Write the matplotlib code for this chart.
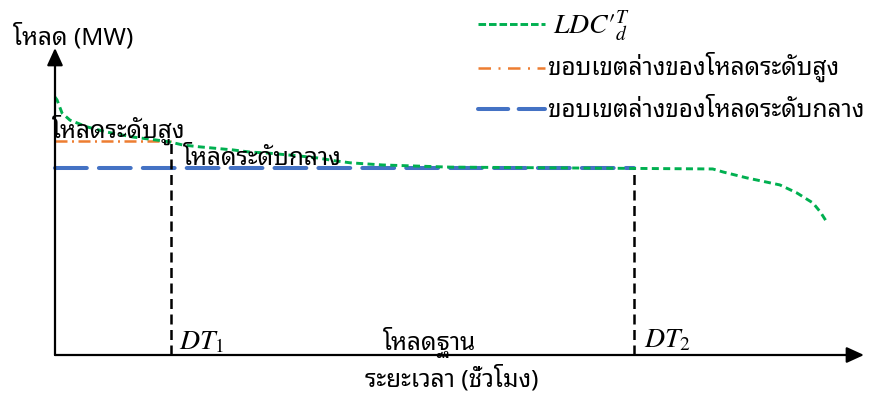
import matplotlib
matplotlib.use("Agg")
import matplotlib.pyplot as plt

plt.rcParams['mathtext.fontset'] = 'stix'
THAI = ['Noto Sans Thai Looped', 'Noto Sans', 'DejaVu Sans']

# Load duration curve: time (% of period) and load (% of scale)
ldc_time = [0.0, 0.25, 0.87, 1.85, 3.96, 6.43, 9.64, 12.6, 14.2, 15.8, 17.9,
            22.0, 24.1, 26.2, 30.3, 32.4, 34.5, 36.5, 40.5, 48.8, 64.9, 81.3,
            82.6, 85.5, 89.6, 91.7, 93.7, 94.6, 95.4]
ldc_load = [84.0, 83.1, 78.8, 76.5, 74.3, 72.6, 71.0, 70.0, 69.4, 68.4, 67.8,
            66.8, 66.1, 65.8, 64.8, 64.2, 63.3, 62.6, 61.9, 61.2, 60.9, 60.6,
            59.6, 57.7, 55.4, 52.8, 49.5, 46.6, 43.3]

peak_lower = 69.7     # lower bound of peak load
mid_lower = 60.9      # lower bound of intermediate load
dt1 = 14.4            # DT_1
dt2 = 71.6            # DT_2

GREEN = '#00B050'
ORANGE = '#ED7D31'
BLUE = '#4472C4'

legend_labels = [r'$LDC{\prime}^{T}_{d}$',
                 'ขอบเขตล่างของโหลดระดับสูง',
                 'ขอบเขตล่างของโหลดระดับกลาง']

fig = plt.figure(figsize=(8.73, 3.94), dpi=100)
W, H = 873, 394
x0, y0, x1, y1 = 55, 355, 864, 48
ax = fig.add_axes([x0 / W, 1 - y0 / H, (x1 - x0) / W, (y0 - y1) / H])
ax.set_xlim(0, 100)
ax.set_ylim(0, 100)
ax.axis('off')

# axes with arrow heads
arrow = dict(arrowstyle='-|>,head_length=10.5,head_width=4.8', mutation_scale=1,
             color='black', lw=1.6, shrinkA=0, shrinkB=0)
ax.annotate('', xy=(0, 100), xytext=(0, 0), arrowprops=arrow, annotation_clip=False)
ax.annotate('', xy=(100, 0), xytext=(0, 0), arrowprops=arrow, annotation_clip=False)

# boundaries
ax.plot([0, dt2], [mid_lower, mid_lower], color=BLUE, lw=2.9,
        dashes=(7.9, 3.0), solid_capstyle='round', dash_capstyle='round', clip_on=False)
ax.plot([0, dt1], [peak_lower, peak_lower], color=ORANGE, lw=1.8,
        dashes=(4.8, 1.8, 0.8, 1.8), clip_on=False)
ax.plot([dt1, dt1], [0, peak_lower], color='black', lw=1.8, dashes=(4.0, 2.2), clip_on=False)
ax.plot([dt2, dt2], [0, mid_lower], color='black', lw=1.8, dashes=(4.0, 2.2), clip_on=False)

# load duration curve
ax.plot(ldc_time, ldc_load, color=GREEN, lw=2.1, dashes=(2.4, 1.5), clip_on=False)

# overlay in pixel units for labels and legend
ov = fig.add_axes([0, 0, 1, 1])
ov.set_xlim(0, W)
ov.set_ylim(H, 0)
ov.axis('off')
ov.patch.set_alpha(0)

fs = 17.5
tk = dict(family=THAI, fontsize=fs, fontweight='light', va='baseline', ha='left')
mk = dict(fontsize=20, va='baseline', ha='left')
ov.text(13, 44, 'โหลด (MW)', **tk)
ov.text(52, 138, 'โหลดระดับสูง', **tk)
ov.text(183, 165, 'โหลดระดับกลาง', **tk)
ov.text(383, 350, 'โหลดฐาน', **tk)
ov.text(365, 386, 'ระยะเวลา (ชั่วโมง)', **tk)
ov.text(179, 349, r'$DT_1$', **mk)
ov.text(644, 347, r'$DT_2$', **mk)

# legend
ov.plot([478, 545], [24, 24], color=GREEN, lw=2.1, dashes=(2.6, 1.0))
ov.plot([478, 545], [68, 68], color=ORANGE, lw=1.8, dashes=(5.0, 3.0, 0.8, 3.0))
ov.plot([478, 545], [109, 109], color=BLUE, lw=2.9, dashes=(7.5, 2.6),
        dash_capstyle='round')
ov.text(553, 33, legend_labels[0], **mk)
ov.text(548, 75, legend_labels[1], **tk)
ov.text(548, 117, legend_labels[2], **tk)

fig.savefig('out.png', dpi=100)
